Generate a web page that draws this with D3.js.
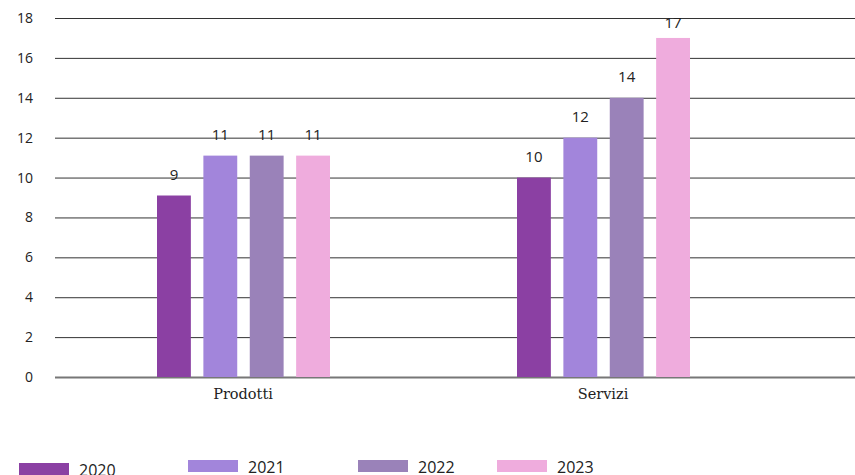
<!DOCTYPE html>
<html>
<head>
<meta charset="utf-8">
<script src="https://cdn.jsdelivr.net/npm/d3@7"></script>
<style>
  body { margin: 0; background: #fff; }
  .tick text { font-family: "Open Sans", sans-serif; font-size: 14px; fill: #222; }
  .cat text { font-family: "DejaVu Serif", serif; font-size: 14.5px; fill: #222; }
  .val { font-family: "Open Sans", sans-serif; font-size: 15px; fill: #222; }
  .leg { font-family: "Open Sans", sans-serif; font-size: 16px; fill: #222; }
</style>
</head>
<body>
<svg></svg>
<script>
let svgWidth = 855;
let svgHeight = 475;

let categories = ["Prodotti", "Servizi"];
let years = ["2020", "2021", "2022", "2023"];
let colors = ["#8b40a3", "#a285db", "#9a82b9", "#efacdd"];
let prodotti = [9.1, 11.1, 11.1, 11.1];
let servizi = [10, 12, 14, 17];
let yTicks = [0, 2, 4, 6, 8, 10, 12, 14, 16, 18];

let series = [prodotti, servizi];

let svg = d3.select("svg").attr("width", svgWidth).attr("height", svgHeight);

let groupWidth = 173;
let xScale = d3.scaleBand().domain(categories).range([63, 783]);
let inner = d3.scaleBand().domain(years).range([0, groupWidth]).paddingInner(0.27);
let yScale = d3.scaleLinear().domain([0, 18]).range([377, 18]);

// grid + y labels
let y_axis = d3.axisLeft(yScale).tickValues(yTicks)
    .tickSizeInner(-800)
    .tickSizeOuter(0)
    .tickPadding(22)
    .tickFormat(d3.format("d"));
let gy = svg.append("g").attr("transform", "translate(55,0)").call(y_axis);
gy.select(".domain").remove();
gy.selectAll(".tick line").attr("stroke", "#333").attr("stroke-width", 1);
gy.selectAll(".tick").filter(d => d === 0).select("line").attr("stroke", "#777").attr("stroke-width", 2);

// bars
let groups = svg.append("g").selectAll("g")
    .data(categories)
    .join("g")
    .attr("transform", (d) => "translate(" + (xScale(d) + 94) + ",0)");

groups.each(function(cat, ci) {
    let g = d3.select(this);
    let vals = series[ci];
    g.selectAll("rect").data(vals).join("rect")
        .attr("x", (d, i) => inner(years[i]))
        .attr("y", d => yScale(d))
        .attr("width", inner.bandwidth())
        .attr("height", d => yScale(0) - yScale(d))
        .attr("fill", (d, i) => colors[i]);
    g.selectAll("text").data(vals).join("text")
        .attr("class", "val")
        .attr("x", (d, i) => inner(years[i]) + inner.bandwidth() / 2)
        .attr("y", d => Math.max(yScale(d) - 16, 28))
        .attr("text-anchor", "middle")
        .text(d => d3.format(".0f")(d));
});

// category labels
let x_axis = d3.axisBottom(xScale).tickSize(0).tickPadding(12);
let gx = svg.append("g").attr("class", "cat").attr("transform", "translate(0,377)").call(x_axis);
gx.select(".domain").remove();

// legend
let legX = [19, 188, 358, 497];
let legY = [463, 460, 460, 460];
let leg = svg.append("g");
years.forEach(function(yr, i) {
    leg.append("rect")
        .attr("x", legX[i]).attr("y", legY[i])
        .attr("width", 50).attr("height", 12)
        .attr("fill", colors[i]);
    leg.append("text")
        .attr("class", "leg")
        .attr("x", legX[i] + 60)
        .attr("y", legY[i] + 13)
        .text(yr);
});
</script>
</body>
</html>
